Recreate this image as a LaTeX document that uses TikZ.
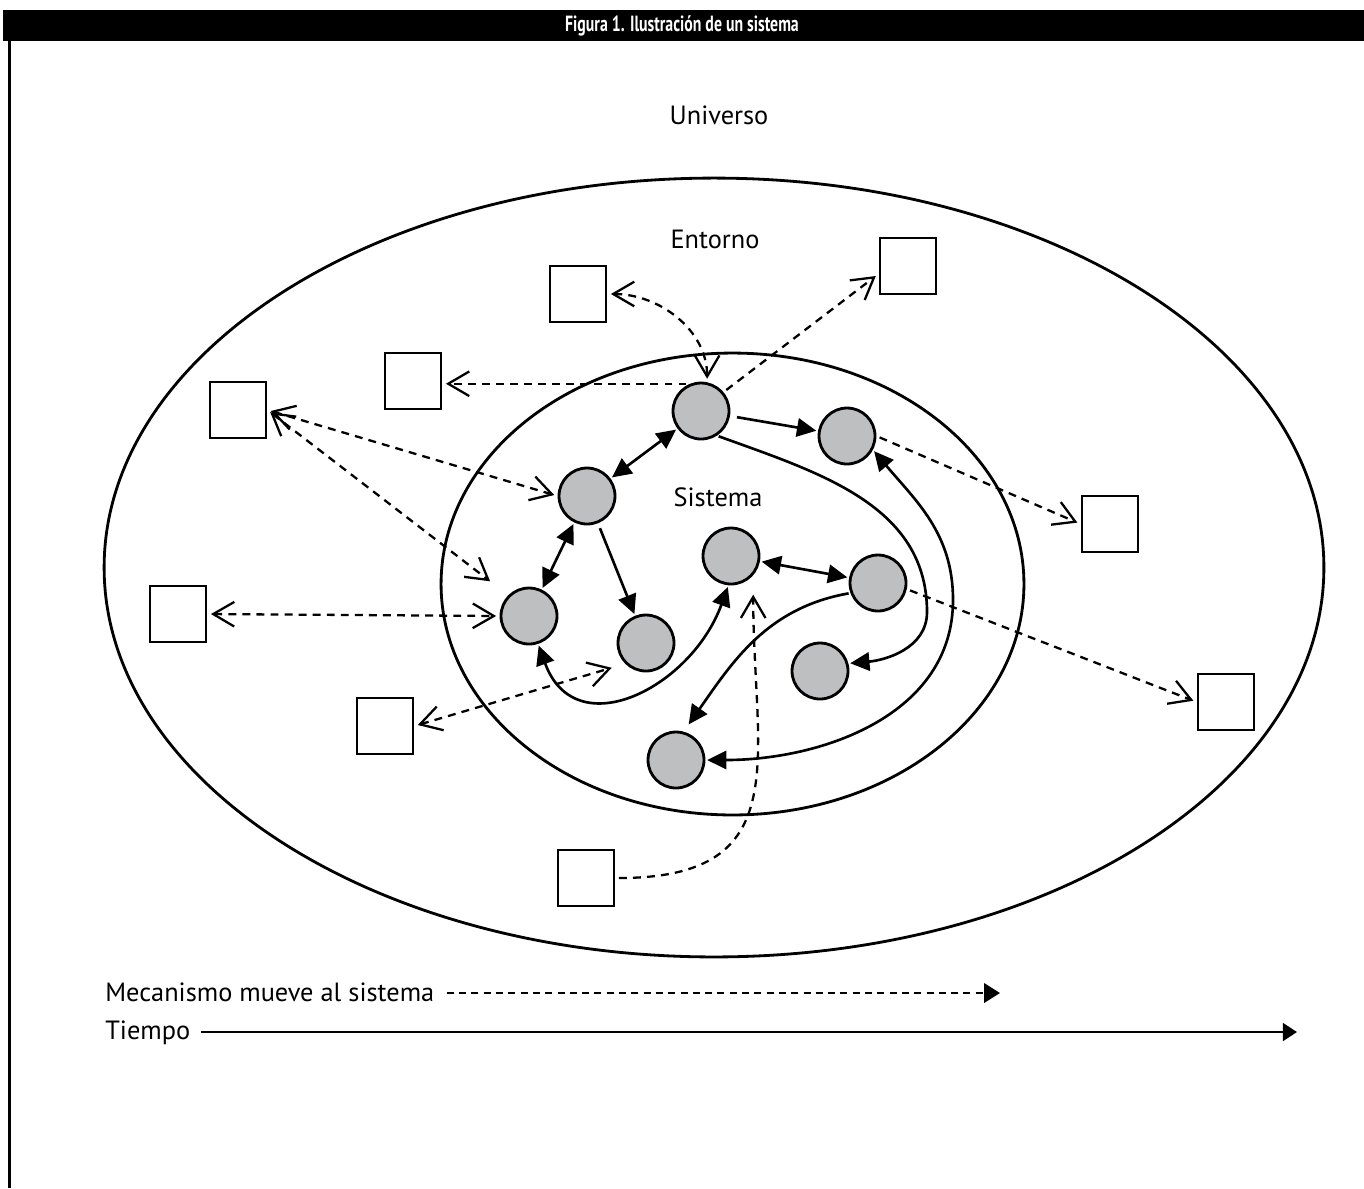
\documentclass[tikz,border=0pt]{standalone}
\usepackage{fontspec}
\setmainfont{PT Sans}
\newfontfamily\headfont[FakeStretch=0.72]{PT Sans}
\usetikzlibrary{arrows.meta}

\definecolor{compgray}{RGB}{190,191,193}

\tikzset{
    comp/.style={circle, draw, line width=1.6pt, fill=compgray, minimum size=1.12cm, inner sep=0pt},
    ent/.style={rectangle, draw, line width=1.6pt, minimum size=1.12cm, inner sep=0pt},
    flow/.style={line width=1.3pt, dash pattern=on 4.5pt off 3.5pt, shorten <=2pt, shorten >=2pt,
        >={Straight Barb[length=12pt,width=14pt]}},
    link/.style={line width=1.5pt, shorten <=1pt, shorten >=1pt, >={Triangle[length=11pt,width=10.5pt]}},
    lbl/.style={font=\fontsize{15}{18}\selectfont},
}

\begin{document}
\begin{tikzpicture}[x=0.02cm, y=-0.02cm]
    \useasboundingbox (0,0) rectangle (1364,1188);

    % Title bar and frame
    \fill (3,10) rectangle (1364,41);
    \node[text=white, font=\headfont\bfseries\fontsize{12.5}{14}\selectfont] (title) at (682,25.5) {Figura 1. Ilustración de un sistema};
    \draw[line width=1.6pt] (9.5,40) -- (9.5,1188);

    % Universe, environment, system
    \node[lbl] (univ) at (719,115) {Universo};
    \draw[line width=1.6pt] (714,567.5) ellipse [x radius=12.2cm, y radius=7.79cm];
    \node[lbl] (entorno) at (715,239) {Entorno};
    \draw[line width=1.6pt] (732.5,584) ellipse [x radius=5.83cm, y radius=4.62cm];
    \node[lbl] (sistema) at (718,497) {Sistema};

    % Components of the system
    \node[comp] (comp1) at (701,411) {};
    \node[comp] (comp2) at (847,436) {};
    \node[comp] (comp3) at (587,496) {};
    \node[comp] (comp4) at (529,616) {};
    \node[comp] (comp5) at (646,643) {};
    \node[comp] (comp6) at (731,556) {};
    \node[comp] (comp7) at (878,583) {};
    \node[comp] (comp8) at (820,671) {};
    \node[comp] (comp9) at (676,760) {};

    % Elements of the environment
    \node[ent] (ent1) at (578,294) {};
    \node[ent] (ent2) at (908,266) {};
    \node[ent] (ent3) at (413,381) {};
    \node[ent] (ent4) at (238,410) {};
    \node[ent] (ent5) at (1110,524) {};
    \node[ent] (ent6) at (178,614) {};
    \node[ent] (ent7) at (385,726) {};
    \node[ent] (ent8) at (1226,702) {};
    \node[ent] (ent9) at (586,878) {};

    % Dashed flows between system and environment
    \draw[flow, ->] (comp1.112) -- (comp1.112 -| ent3.east);
    \draw[flow, <->] (ent1.east) to[out=0, in=90] (comp1.78);
    \draw[flow, ->] (comp1.40) -- (ent2.-165);
    \draw[flow, ->] (comp2.east) -- (ent5.west);
    \draw[flow, ->] (comp7.-12) -- (ent8.west);
    \draw[flow, <->] (ent4.east) -- (comp3.west);
    \draw[flow, <->, shorten >=13pt] (ent4.east) -- (comp4.135);
    \draw[flow, <->] (ent6.east) -- (comp4.west);
    \draw[flow, <->, shorten >=8pt] (ent7.east) -- (comp5.225);
    \draw[flow, ->, shorten >=11pt] (ent9.east) to[out=0, in=-90, looseness=1.4] (comp6.-41);

    % Solid links inside the system
    \draw[link, <->] (comp1) -- (comp3);
    \draw[link, ->, shorten <=4pt] (comp1) -- (comp2);
    \draw[link, <->] (comp3) -- (comp4);
    \draw[link, ->, shorten <=3pt] (comp3) -- (comp5);
    \draw[link, <->] (comp6) -- (comp7);
    \draw[link, <->] (comp4.-72) to[out=-70, in=-110, looseness=1.4] (comp6.-95);
    \draw[link, ->, shorten >=5pt] (comp7.200) to[out=190, in=55] (comp9.75);
    \draw[link, ->] (comp1.-57) to[out=-20, in=90] (927,612) to[out=-90, in=5] (comp8.15);
    \draw[link, <->] (comp9.east) to[out=0, in=-90] (953,600) to[out=90, in=-50] (comp2.-28);

    % Legend
    \node[lbl, anchor=base west, inner sep=0pt] (mech) at (105,1001) {Mecanismo mueve al sistema};
    \coordinate (mechend) at (1000,993);
    \draw[line width=1.3pt, dash pattern=on 4pt off 3pt, shorten <=7pt, -{Triangle[length=9pt,width=11pt]}] (mech.east |- mechend) -- (mechend);
    \node[lbl, anchor=base west, inner sep=0pt] (time) at (105,1039) {Tiempo};
    \coordinate (timeend) at (1297,1032);
    \draw[line width=1.6pt, shorten <=6pt, -{Triangle[length=8pt,width=10pt]}] (time.east |- timeend) -- (timeend);
\end{tikzpicture}
\end{document}
